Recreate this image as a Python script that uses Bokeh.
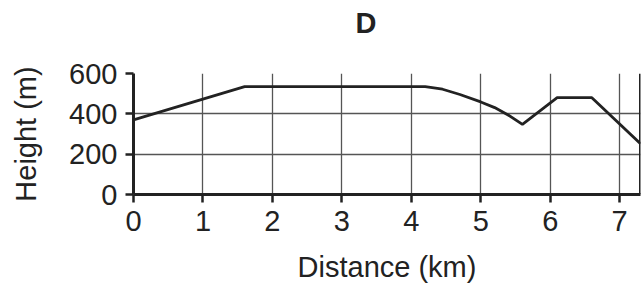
from bokeh.plotting import figure
from bokeh.models import Range1d, FixedTicker, Span, Title
from bokeh.embed import file_html
from bokeh.resources import INLINE

# Profile data (distance km, height m)
distance = [0.0, 1.6, 4.2, 4.45, 4.7, 5.0, 5.2, 5.4, 5.6, 6.1, 6.6, 7.3]
height = [370, 535, 535, 522, 496, 459, 431, 393, 348, 480, 480, 252]
x_ticks = [0, 1, 2, 3, 4, 5, 6, 7]
y_ticks = [0, 200, 400, 600]
x_end = 7.3
y_end = 600
title_text = "D"

FONT = "Liberation Sans"

p = figure(width=643, height=286, output_backend="svg", toolbar_location=None,
           x_range=Range1d(0, x_end), y_range=Range1d(0, y_end),
           min_border_left=133, min_border_right=3, min_border_top=73,
           min_border_bottom=92, title=title_text)
p.outline_line_color = None
p.background_fill_color = "white"
p.border_fill_color = "white"

# main title (placed outermost)
p.title.text_font = FONT
p.title.text_font_size = "29px"
p.title.text_font_style = "bold"
p.title.text_color = "#222222"
p.title.align = "left"
p.title.offset = 222
p.title.standoff = 0

# spacer between the title and the frame
spacer = Title(text="\u00a0", text_font=FONT, text_font_size="10px", standoff=22)
p.add_layout(spacer, "above")

for ax in (p.xaxis[0], p.yaxis[0]):
    ax.axis_line_width = 3
    ax.axis_line_color = "#222222"
    ax.major_tick_line_width = 2.5
    ax.major_tick_line_color = "#222222"
    ax.major_tick_out = 8
    ax.major_tick_in = 0
    ax.minor_tick_line_color = None
    ax.major_label_text_font = FONT
    ax.major_label_text_font_size = "29px"
    ax.major_label_text_color = "#222222"
    ax.axis_label_text_font = FONT
    ax.axis_label_text_font_size = "29px"
    ax.axis_label_text_font_style = "normal"
    ax.axis_label_text_color = "#222222"

p.xaxis.ticker = FixedTicker(ticks=x_ticks)
p.yaxis.ticker = FixedTicker(ticks=y_ticks)
p.xaxis.axis_label = "Distance (km)"
p.yaxis.axis_label = "Height (m)"
p.xaxis.major_label_standoff = 8
p.yaxis.major_label_standoff = 8
p.xaxis.axis_label_standoff = 17
p.yaxis.axis_label_standoff = 24

p.xgrid.ticker = FixedTicker(ticks=x_ticks)
p.ygrid.ticker = FixedTicker(ticks=y_ticks)
p.grid.grid_line_color = "#555555"
p.grid.grid_line_width = 1.3

p.add_layout(Span(location=x_end, dimension="height", line_color="#222222", line_width=3))

p.line(distance, height, line_color="#222222", line_width=2.8)

open("out.html", "w").write(file_html(p, INLINE))
